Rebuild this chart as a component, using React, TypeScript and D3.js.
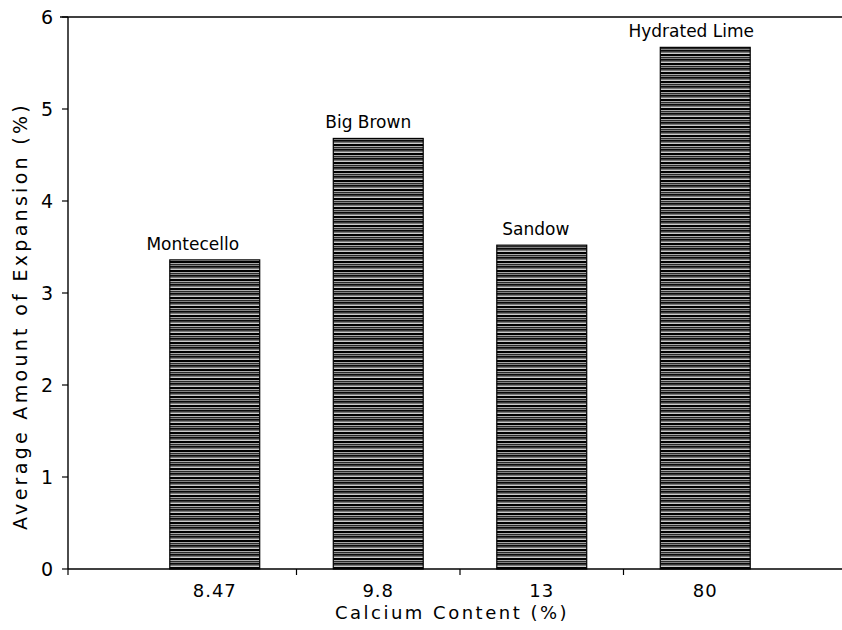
import React from "react";
import * as d3 from "d3";

const categories = ["8.47", "9.8", "13", "80"];
const materials = ["Montecello", "Big Brown", "Sandow", "Hydrated Lime"];
const expansion = [3.36, 4.68, 3.52, 5.67];
const yTicks = [0, 1, 2, 3, 4, 5, 6];
const labelShift = [-22, -10, -6, -14];

const W = 842;
const H = 630;
const left = 68;
const top = 17;
const bottom = 569;
const font = "'DejaVu Sans', sans-serif";

export default function App() {
  const x = d3.scaleBand<string>().domain(categories).range([133, 787]).paddingInner(0.45).paddingOuter(0.225);
  const y = d3.scaleLinear().domain([0, 6]).range([bottom, top]);
  const bw = x.bandwidth();
  const step = x.step();
  const boundaries = categories.slice(1).map((c) => (x(c) as number) - (step - bw) / 2);

  return (
    <svg width={W} height={H} style={{ position: "absolute", left: 0, top: 0, background: "#fff" }}>
      <defs>
        <pattern id="hatch" patternUnits="userSpaceOnUse" width="12" height="9">
          <rect width="12" height="9" fill="#fff" />
          <rect y="0" width="12" height="2.2" fill="#000" />
          <rect y="2.8" width="12" height="1.4" fill="#2a2a2a" />
          <rect y="4.6" width="12" height="2.2" fill="#0a0a0a" />
          <rect y="7.2" width="12" height="1.1" fill="#555" />
        </pattern>
      </defs>
      {categories.map((c, i) => (
        <g key={c}>
          <rect
            x={x(c)}
            y={y(expansion[i])}
            width={bw}
            height={bottom - y(expansion[i])}
            fill="url(#hatch)"
            stroke="#000"
            strokeWidth={1.2}
          />
          <text
            x={(x(c) as number) + bw / 2 + labelShift[i]}
            y={y(expansion[i]) - 10}
            textAnchor="middle"
            fontFamily={font}
            fontSize={17}
            fill="#000"
          >
            {materials[i]}
          </text>
        </g>
      ))}
      <line x1={left} x2={left} y1={top} y2={bottom} stroke="#000" strokeWidth={1.4} />
      <line x1={left - 8} x2={W} y1={top} y2={top} stroke="#000" strokeWidth={1.4} />
      <line x1={left} x2={W} y1={bottom} y2={bottom} stroke="#000" strokeWidth={1.4} />
      {yTicks.map((t) => (
        <g key={t}>
          <line x1={left - 6} x2={left} y1={y(t)} y2={y(t)} stroke="#000" strokeWidth={1.2} />
          <text x={53} y={y(t)} dy="0.36em" textAnchor="end" fontFamily={font} fontSize={19} fill="#000">
            {t}
          </text>
        </g>
      ))}
      <line x1={left} x2={left} y1={bottom} y2={bottom + 6} stroke="#000" strokeWidth={1.2} />
      {boundaries.map((b, i) => (
        <line key={i} x1={b} x2={b} y1={bottom} y2={bottom + 6} stroke="#000" strokeWidth={1.2} />
      ))}
      {categories.map((c) => (
        <text
          key={c}
          x={(x(c) as number) + bw / 2}
          y={597}
          textAnchor="middle"
          fontFamily={font}
          fontSize={18}
          letterSpacing={1}
          fill="#000"
        >
          {c}
        </text>
      ))}
      <text x={452} y={619} textAnchor="middle" fontFamily={font} fontSize={18} letterSpacing={2.5} fill="#000">
        Calcium Content (%)
      </text>
      <text
        transform={`translate(27, 316) rotate(-90)`}
        textAnchor="middle"
        fontFamily={font}
        fontSize={19}
        letterSpacing={3.3}
        fill="#000"
      >
        Average Amount of Expansion (%)
      </text>
    </svg>
  );
}
